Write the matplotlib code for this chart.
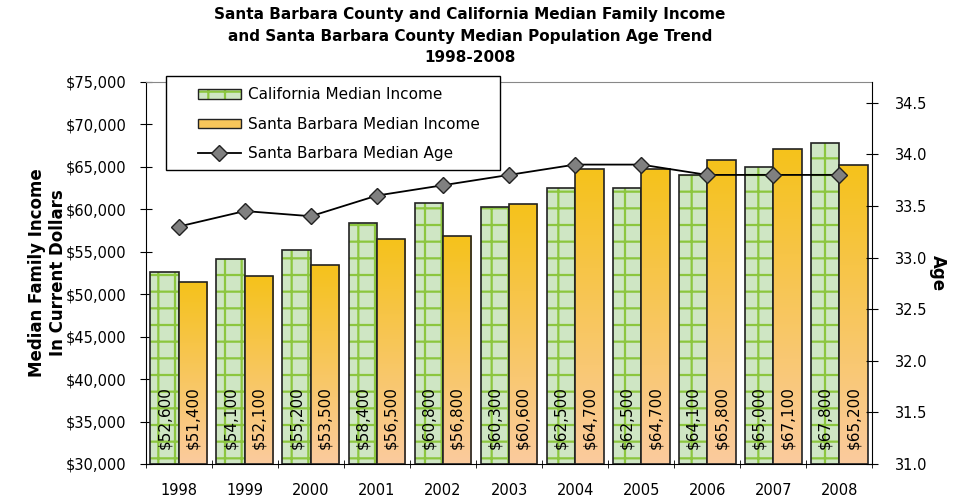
import matplotlib
matplotlib.use("Agg")
import matplotlib.pyplot as plt
import numpy as np
from matplotlib.colors import LinearSegmentedColormap
from matplotlib.ticker import FuncFormatter, MultipleLocator

years = ["1998", "1999", "2000", "2001", "2002", "2003", "2004", "2005", "2006", "2007", "2008"]
ca_income = [52600, 54100, 55200, 58400, 60800, 60300, 62500, 62500, 64100, 65000, 67800]
sb_income = [51400, 52100, 53500, 56500, 56800, 60600, 64700, 64700, 65800, 67100, 65200]
sb_age = [33.3, 33.45, 33.4, 33.6, 33.7, 33.8, 33.9, 33.9, 33.8, 33.8, 33.8]

plt.rcParams["font.family"] = "DejaVu Sans"
plt.rcParams["hatch.linewidth"] = 1.6

fig = plt.figure(figsize=(9.65, 5), dpi=100)
ax = fig.add_axes([0.151, 0.072, 0.753, 0.764])

x = np.arange(len(years))
w = 0.43
ymin = 30000

# California bars: light green with green grid
ca_bars = ax.bar(x - w / 2, np.array(ca_income) - ymin, w, bottom=ymin,
                 facecolor="#cfe6c4", edgecolor="#222222", linewidth=1.2,
                 hatch="+", zorder=2, label="California Median Income")
for b in ca_bars:
    b._hatch_color = matplotlib.colors.to_rgba("#8cc63f")

# Santa Barbara bars: gold to peach gradient
cmap = LinearSegmentedColormap.from_list("sb", ["#fbcb9e", "#f5c21b"])
grad = np.linspace(0, 1, 256).reshape(-1, 1)
sb_bars = ax.bar(x + w / 2, np.array(sb_income) - ymin, w, bottom=ymin,
                 facecolor="none", edgecolor="#222222", linewidth=1.2,
                 zorder=3, label="Santa Barbara Median Income")
for b in sb_bars:
    x0, y0 = b.get_x(), b.get_y()
    im = ax.imshow(grad, cmap=cmap, origin="lower", aspect="auto",
                   extent=[x0, x0 + b.get_width(), y0, y0 + b.get_height()],
                   zorder=2.5)
    im.set_clip_path(b)

# value labels
for i in range(len(years)):
    ax.text(x[i] - w / 2, 31800, "${:,}".format(ca_income[i]), rotation=90,
            ha="center", va="bottom", fontsize=11, zorder=5)
    ax.text(x[i] + w / 2, 31800, "${:,}".format(sb_income[i]), rotation=90,
            ha="center", va="bottom", fontsize=11, zorder=5)

ax.set_xlim(-0.5, len(years) - 0.5)
ax.set_ylim(30000, 75000)
ax.yaxis.set_major_locator(MultipleLocator(5000))
ax.yaxis.set_major_formatter(FuncFormatter(lambda v, p: "${:,.0f}".format(v)))
ax.set_xticks(x)
ax.set_xticklabels(years)
ax.set_xticks(np.arange(-0.5, len(years)), minor=True)
ax.tick_params(axis="x", which="major", length=0, pad=14, labelsize=10.5)
ax.tick_params(axis="x", which="minor", length=6, direction="inout")
ax.tick_params(axis="y", direction="inout", length=8, labelsize=10.5, pad=10)
ax.spines["top"].set_color("#888888")
ax.spines["right"].set_visible(False)
ax.set_ylabel("Median Family Income\nIn Current Dollars", fontweight="bold",
              fontsize=12, labelpad=-1)

# age line on the right axis
ax2 = ax.twinx()
ax2.plot(x, sb_age, color="black", linewidth=1.3, marker="D", markersize=8.5,
         markerfacecolor="#808080", markeredgecolor="#222222",
         label="Santa Barbara Median Age", zorder=6)
ax2.set_ylim(31.0, 34.7)
ax2.yaxis.set_major_locator(MultipleLocator(0.5))
ax2.yaxis.set_major_formatter(FuncFormatter(lambda v, p: "{:.1f}".format(v)))
ax2.tick_params(axis="y", direction="inout", length=8, labelsize=10.5, pad=12)
ax2.spines["top"].set_visible(False)
ax2.spines["left"].set_visible(False)
ax2.spines["bottom"].set_visible(False)
ax2.set_ylabel("Age", fontweight="bold", fontsize=12, rotation=270, labelpad=14)

# legend box drawn separately so it can have wide padding
box = plt.Rectangle((0.0275, 0.7696), 0.4601, 0.2461, transform=ax2.transAxes,
                    facecolor="white", edgecolor="black", linewidth=1,
                    clip_on=False, zorder=7)
ax2.add_patch(box)
h1 = plt.Rectangle((0, 0), 1, 1, facecolor="#cfe6c4", edgecolor="#222222",
                   hatch="+", linewidth=1)
h1._hatch_color = matplotlib.colors.to_rgba("#8cc63f")
h2 = plt.Rectangle((0, 0), 1, 1, facecolor="#f8c65a", edgecolor="#222222", linewidth=1)
h3 = ax2.get_lines()[0]
leg = ax2.legend([h1, h2, h3], ["California Median Income",
                                "Santa Barbara Median Income",
                                "Santa Barbara Median Age"],
                 loc="upper left", bbox_to_anchor=(0.072, 0.986), fontsize=11,
                 frameon=False, handlelength=2.8, handleheight=0.6, borderpad=0,
                 labelspacing=0.95, borderaxespad=0, handletextpad=0.5)
leg.set_zorder(8)

fig.suptitle("Santa Barbara County and California Median Family Income\n"
             "and Santa Barbara County Median Population Age Trend\n1998-2008",
             fontweight="bold", fontsize=11, x=0.487, y=0.985, linespacing=1.5)

fig.savefig("out.png", dpi=100)
